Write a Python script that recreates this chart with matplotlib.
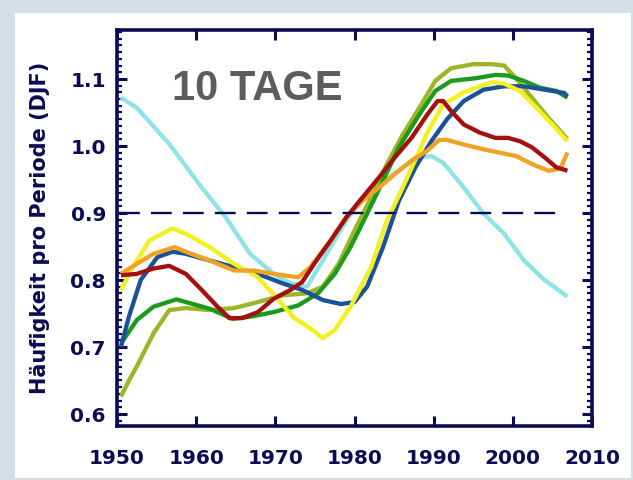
import matplotlib
matplotlib.use('Agg')
import matplotlib.pyplot as plt
from matplotlib.patches import Rectangle
from matplotlib.ticker import MultipleLocator

# Werte (Jahr, Haeufigkeit)
cyan_years = [1950.5, 1952.5, 1956.6, 1960.7, 1963.7, 1966.8, 1969.8, 1971.9, 1974.0, 1976.0,
              1979.0, 1981.0, 1983.6, 1986.1, 1988.2, 1989.7, 1991.2, 1993.8, 1996.3, 1998.9,
              2001.4, 2004.0, 2006.9]
cyan_vals = [1.072, 1.057, 1.003, 0.938, 0.894, 0.839, 0.809, 0.795, 0.790, 0.829,
             0.889, 0.923, 0.946, 0.968, 0.983, 0.985, 0.975, 0.938, 0.899, 0.869,
             0.829, 0.800, 0.775]

olive_years = [1950.5, 1951.6, 1952.5, 1954.6, 1956.6, 1958.7, 1961.7, 1964.8, 1967.8, 1970.9,
               1974.0, 1976.0, 1978.0, 1980.0, 1982.1, 1984.1, 1986.1, 1988.2, 1990.2, 1992.2,
               1995.0, 1997.3, 1998.9, 2000.4, 2002.4, 2004.5, 2006.9]
olive_vals = [0.626, 0.652, 0.671, 0.720, 0.755, 0.758, 0.755, 0.758, 0.767, 0.777,
              0.780, 0.790, 0.824, 0.874, 0.923, 0.973, 1.017, 1.057, 1.097, 1.116,
              1.122, 1.122, 1.120, 1.101, 1.072, 1.042, 1.010]

green_years = [1950.5, 1952.5, 1954.6, 1957.5, 1958.7, 1961.7, 1964.6, 1966.8, 1969.8, 1972.9,
               1975.4, 1977.5, 1979.5, 1981.6, 1983.6, 1985.6, 1988.2, 1990.2, 1992.2, 1995.3,
               1997.8, 1999.4, 2001.4, 2003.4, 2005.5, 2006.9]
green_vals = [0.705, 0.740, 0.760, 0.771, 0.767, 0.757, 0.742, 0.745, 0.752, 0.762,
              0.780, 0.809, 0.849, 0.899, 0.948, 0.998, 1.047, 1.082, 1.097, 1.101,
              1.106, 1.105, 1.097, 1.087, 1.082, 1.072]

blue_years = [1950.5, 1951.5, 1953.0, 1955.1, 1957.0, 1958.7, 1961.7, 1964.8, 1967.8, 1970.9,
              1973.4, 1976.0, 1978.3, 1980.0, 1981.6, 1983.6, 1985.6, 1987.7, 1989.7, 1991.7,
              1993.8, 1996.3, 1998.9, 2001.4, 2004.0, 2006.5, 2006.9]
blue_vals = [0.700, 0.745, 0.800, 0.834, 0.842, 0.839, 0.829, 0.819, 0.809, 0.795,
             0.785, 0.770, 0.764, 0.767, 0.790, 0.849, 0.918, 0.968, 1.007, 1.040,
             1.067, 1.084, 1.089, 1.089, 1.084, 1.079, 1.074]

yellow_years = [1950.5, 1952.0, 1954.1, 1957.0, 1958.7, 1961.7, 1964.8, 1967.8, 1970.4, 1972.4,
                1974.4, 1976.0, 1977.5, 1979.5, 1982.1, 1984.1, 1986.1, 1988.2, 1989.2, 1991.2,
                1993.8, 1996.3, 1997.5, 1998.9, 2000.9, 2003.0, 2005.0, 2006.9]
yellow_vals = [0.785, 0.819, 0.859, 0.877, 0.869, 0.849, 0.824, 0.804, 0.770, 0.743,
               0.728, 0.713, 0.725, 0.760, 0.819, 0.889, 0.938, 0.993, 1.020, 1.062,
               1.080, 1.091, 1.095, 1.093, 1.082, 1.057, 1.032, 1.007]

orange_years = [1950.5, 1952.5, 1954.6, 1957.3, 1958.7, 1961.7, 1964.8, 1967.3, 1969.8, 1972.9,
                1974.4, 1977.0, 1979.0, 1981.0, 1983.1, 1985.1, 1987.2, 1989.2, 1990.7, 1991.7,
                1993.8, 1996.3, 1998.3, 2000.4, 2002.4, 2004.5, 2006.0, 2006.9]
orange_vals = [0.809, 0.824, 0.839, 0.849, 0.842, 0.829, 0.814, 0.814, 0.809, 0.804,
               0.819, 0.859, 0.894, 0.918, 0.938, 0.958, 0.978, 0.993, 1.009, 1.009,
               1.002, 0.995, 0.990, 0.985, 0.973, 0.963, 0.966, 0.990]

red_years = [1950.5, 1952.5, 1954.6, 1956.6, 1958.7, 1960.7, 1962.7, 1964.2, 1965.8, 1967.8,
             1969.8, 1971.9, 1973.4, 1974.9, 1977.0, 1979.0, 1981.0, 1983.1, 1985.1, 1987.2,
             1989.2, 1990.5, 1991.2, 1992.2, 1993.8, 1995.8, 1997.8, 1999.4, 2000.9, 2002.4,
             2004.0, 2005.5, 2006.9]
red_vals = [0.807, 0.809, 0.817, 0.821, 0.809, 0.785, 0.760, 0.743, 0.743, 0.752,
            0.772, 0.785, 0.797, 0.824, 0.859, 0.894, 0.923, 0.953, 0.983, 1.012,
            1.047, 1.067, 1.067, 1.052, 1.032, 1.020, 1.012, 1.012, 1.007, 0.998,
            0.983, 0.968, 0.963]

ref_years = [1950.3, 2006.0]
ref_level = 0.9

x_ticks = [1950, 1960, 1970, 1980, 1990, 2000, 2010]
y_ticks = [0.6, 0.7, 0.8, 0.9, 1.0, 1.1]

NAVY = '#0b0b55'

series = [
    (cyan_years, cyan_vals, '#8fe3e3'),
    (olive_years, olive_vals, '#9db526'),
    (green_years, green_vals, '#1c9a1c'),
    (blue_years, blue_vals, '#1c5198'),
    (yellow_years, yellow_vals, '#f2ef22'),
    (orange_years, orange_vals, '#f0a226'),
    (red_years, red_vals, '#a3100f'),
]

plt.rcParams['lines.scale_dashes'] = False

fig = plt.figure(figsize=(6.33, 4.81), dpi=100, facecolor='#d6dee5')
# weisses Feld innerhalb des grauen Rahmens
fig.patches.append(Rectangle((15 / 633, 2 / 481), 616 / 633, 465 / 481,
                             transform=fig.transFigure, facecolor='white',
                             edgecolor='none', zorder=-10))

ax = fig.add_axes([117 / 633, 54 / 481, 475 / 633, 396 / 481])
ax.set_facecolor('white')

for xs, ys, col in series:
    ax.plot(xs, ys, color=col, lw=3.1, solid_capstyle='butt', solid_joinstyle='round')

ax.plot(ref_years, [ref_level, ref_level], color=NAVY, lw=1.7, dashes=(15, 8))

ax.set_xlim(1950, 2009.5)
ax.set_ylim(0.582, 1.173)
ax.set_xticks(x_ticks)
ax.set_yticks(y_ticks)
ax.set_xticklabels([str(t) for t in x_ticks])
ax.set_yticklabels(['%.1f' % t for t in y_ticks])
ax.yaxis.set_minor_locator(MultipleLocator(0.01))

for s in ax.spines.values():
    s.set_color(NAVY)
    s.set_linewidth(2.6)

ax.tick_params(axis='both', which='major', direction='in', top=True, right=True,
               length=7, width=2.2, color=NAVY, labelcolor=NAVY)
ax.tick_params(axis='x', which='major', pad=16)
ax.tick_params(axis='y', which='major', pad=8)
ax.tick_params(axis='y', which='minor', direction='in', left=True, right=True,
               length=3.5, width=1.6, color=NAVY)
for lab in ax.get_xticklabels() + ax.get_yticklabels():
    lab.set_fontweight('bold')
    lab.set_fontsize(14.5)

fig.text(40 / 633, 1 - 228 / 481, 'Häufigkeit pro Periode (DJF)', rotation=90,
         ha='center', va='center', color=NAVY, fontsize=15, fontweight='bold')

ax.text(1957.0, 1.070, '10 TAGE', ha='left', va='baseline', color='#5c5c5c',
        fontsize=30, fontweight='bold', family='Liberation Sans')

fig.savefig('out.png', dpi=100, facecolor=fig.get_facecolor())
